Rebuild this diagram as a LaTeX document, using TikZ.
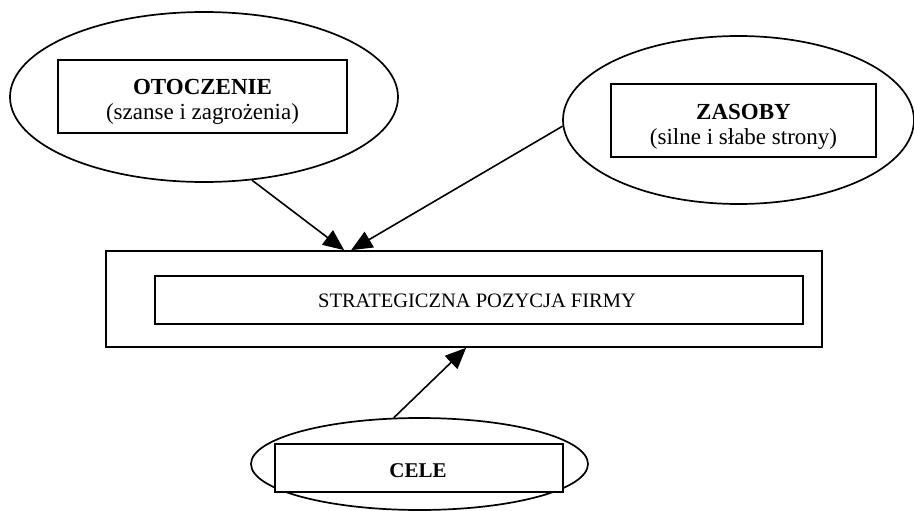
\documentclass[tikz,border=0pt]{standalone}
\usepackage{fontspec}
\setmainfont{Liberation Serif}
\usetikzlibrary{arrows.meta,calc,shapes.geometric}
\begin{document}
\begin{tikzpicture}[x=1pt,y=-1pt,
  oval/.style={draw,ellipse,line width=1.7pt,inner sep=0pt},
  box/.style={draw,fill=white,line width=1.7pt,inner sep=0pt,rectangle},
  arr/.style={line width=1.6pt,-{Triangle[length=21pt,width=18pt]}},
  big/.style={font=\fontsize{23}{25}\selectfont,inner sep=0pt,anchor=base},
  bigb/.style={font=\fontsize{23}{25}\selectfont\bfseries,inner sep=0pt,anchor=base},
]
\useasboundingbox (0,0) rectangle (914,511);
% OTOCZENIE
\node[oval,minimum width=388pt,minimum height=170pt] (ot) at (204,97) {};
\node[box,minimum width=289pt,minimum height=73pt] (otbox) at (202.5,96.5) {};
\node[bigb] (otT) at (202.5,95) {OTOCZENIE};
\begin{scope}
\clip (otbox.north west) rectangle ($(otbox.south east)+(0,-10)$);
\node[big] (otS) at (202.5,120) {(szanse i zagrożenia)};
\end{scope}
% ZASOBY
\node[oval,minimum width=351pt,minimum height=168pt] (zs) at (738.5,120) {};
\node[box,minimum width=265pt,minimum height=73pt] (zsbox) at (743.5,120.5) {};
\node[bigb] (zsT) at (743.5,120) {ZASOBY};
\begin{scope}
\clip (zsbox.north west) rectangle ($(zsbox.south east)+(0,-9)$);
\node[big] (zsS) at (743.5,145) {(silne i słabe strony)};
\end{scope}
% STRATEGICZNA
\node[box,minimum width=716pt,minimum height=96pt] (outer) at (464,299) {};
\node[box,minimum width=648pt,minimum height=48pt] (inner) at (479,300) {};
\node[font=\fontsize{20.5}{23}\selectfont,inner sep=0pt,anchor=base] (stT) at (477,307) {STRATEGICZNA POZYCJA FIRMY};
% CELE
\node[oval,minimum width=337pt,minimum height=92pt] (ce) at (419.5,464) {};
\node[box,minimum width=288pt,minimum height=48pt] (cebox) at (419,468) {};
\node[font=\fontsize{21}{23}\selectfont\bfseries,inner sep=0pt,anchor=base] (ceT) at (418,477) {CELE};
% arrows
\draw[arr] (ot.-60.5) -- ($(outer.north west)+(239,0)$);
\draw[arr] (zs.182.3) -- ($(outer.north west)+(246,0)$);
\draw[arr] (ce.119) -- ($(outer.south west)+(361,0)$);
\end{tikzpicture}
\end{document}
